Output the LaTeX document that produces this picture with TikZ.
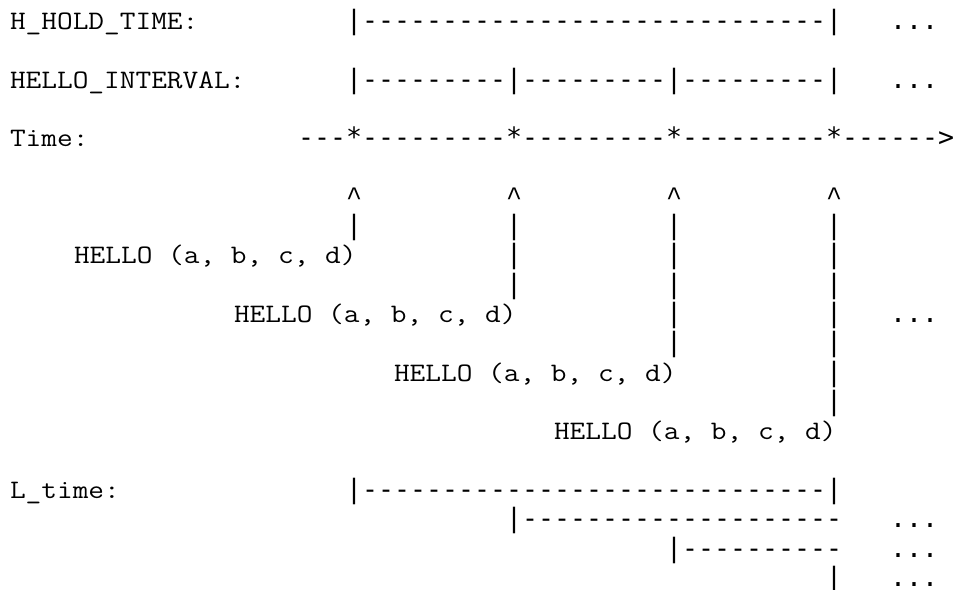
\documentclass[tikz,border=0pt]{standalone}
\usepackage{fontspec}
\newfontfamily\lmm{Latin Modern Mono}[FakeStretch=1.1427]
\newfontfamily\libm{Liberation Mono}
\setmonofont{DejaVu Sans Mono}[Scale=0.9966]
\newcommand\txtfont{\lmm\fontsize{26.67pt}{30pt}\selectfont}
\newcommand\caretfont{\libm\fontsize{26.67pt}{30pt}\selectfont}
\newcommand\artfont{\ttfamily\fontsize{26.67pt}{30pt}\selectfont}
\tikzset{
  txt/.style={anchor=base west, inner sep=0pt, outer sep=0pt, font=\txtfont, text=black},
  caret/.style={anchor=base west, inner sep=0pt, outer sep=0pt, font=\caretfont, text=black},
  art/.style={anchor=base west, inner sep=0pt, outer sep=0pt, font=\artfont, text=black}
}
% column c, line k
\newcommand\T[4]{\node[txt] (#1) at ({10+16*#2},{29.5+29.31*#3}) {#4};}
\newcommand\C[3]{\node[caret] (#1) at ({10+16*#2},{29.5+29.31*#3}) {\textasciicircum};}
\newcommand\A[4]{\node[art] (#1) at ({10+16*#2},{29.5+29.31*#3}) {#4};}
\begin{document}
\begin{tikzpicture}[x=1pt,y=-1pt]
\useasboundingbox (0,0) rectangle (953,589);
% line 0
\T{hold}{0}{0}{H\_HOLD\_TIME:}
\A{holdbar}{21}{0}{|-----------------------------|}
\A{holddots}{55}{0}{...}
% line 2
\T{hello}{0}{2}{HELLO\_INTERVAL:}
\A{hellobar}{21}{2}{|---------|---------|---------|}
\A{hellodots}{55}{2}{...}
% line 4
\T{time}{0}{4}{Time:}
\A{timeaxis}{18}{4}{---*---------*---------*---------*------>}
% line 6 carets
\C{ca}{21}{6}
\C{cb}{31}{6}
\C{cc}{41}{6}
\C{cd}{51}{6}
% line 7
\A{p7a}{21}{7}{|}
\A{p7b}{31}{7}{|}
\A{p7c}{41}{7}{|}
\A{p7d}{51}{7}{|}
% line 8
\T{msga}{4}{8}{HELLO (a, b, c, d)}
\A{p8b}{31}{8}{|}
\A{p8c}{41}{8}{|}
\A{p8d}{51}{8}{|}
% line 9
\A{p9b}{31}{9}{|}
\A{p9c}{41}{9}{|}
\A{p9d}{51}{9}{|}
% line 10
\T{msgb}{14}{10}{HELLO (a, b, c, d)}
\A{p10c}{41}{10}{|}
\A{p10d}{51}{10}{|}
\A{dots10}{55}{10}{...}
% line 11
\A{p11c}{41}{11}{|}
\A{p11d}{51}{11}{|}
% line 12
\T{msgc}{24}{12}{HELLO (a, b, c, d)}
\A{p12d}{51}{12}{|}
% line 13
\A{p13d}{51}{13}{|}
% line 14
\T{msgd}{34}{14}{HELLO (a, b, c, d)}
% line 16
\T{ltime}{0}{16}{L\_time:}
\A{lbar1}{21}{16}{|-----------------------------|}
% line 17
\A{lbar2}{31}{17}{|--------------------}
\A{ldots2}{55}{17}{...}
% line 18
\A{lbar3}{41}{18}{|----------}
\A{ldots3}{55}{18}{...}
% line 19
\A{lbar4}{51}{19}{|}
\A{ldots4}{55}{19}{...}
\end{tikzpicture}
\end{document}
